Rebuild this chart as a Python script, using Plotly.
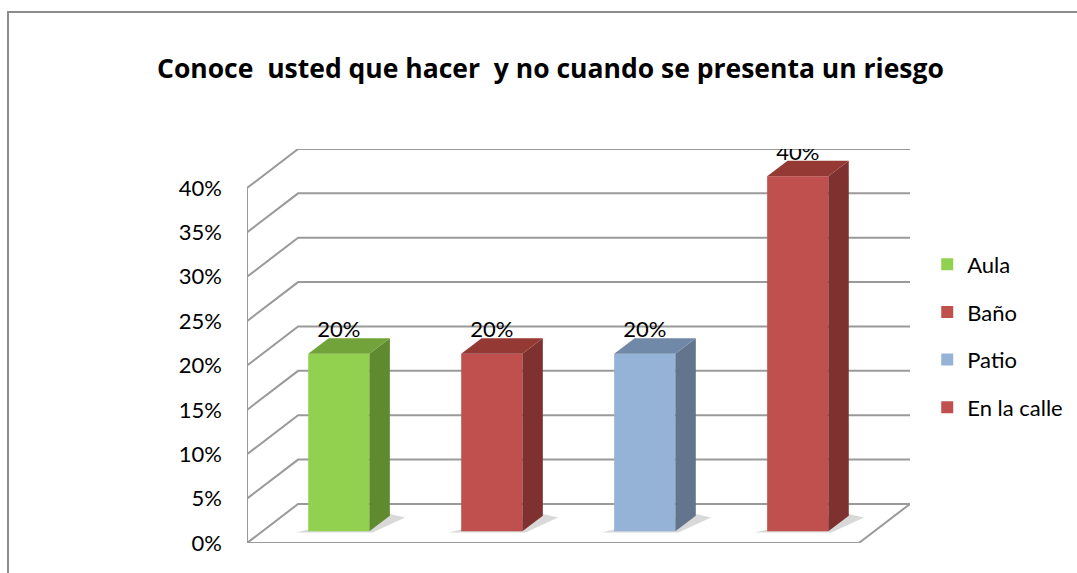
import plotly.graph_objects as go

# datos del grafico
categorias = ["Aula", "Baño", "Patio", "En la calle"]
valores = [20, 20, 20, 40]
etiquetas = ["20%", "20%", "20%", "40%"]
ticks_y = [0, 5, 10, 15, 20, 25, 30, 35, 40]
ticks_txt = ["0%", "5%", "10%", "15%", "20%", "25%", "30%", "35%", "40%"]

colores_frente = ["#92D050", "#C0504D", "#95B3D7", "#C0504D"]
colores_lado = ["#5F8A30", "#7F3130", "#62758D", "#7F3130"]
colores_arriba = ["#72A33A", "#953935", "#7189A8", "#953935"]

# profundidad del "3D" (en unidades de ejes)
DX = 0.334
DY = 4.4
f0, f1 = 0.3, 0.7   # posicion de la barra en la profundidad
ancho = 0.4
gris = "#9a9a9a"
fuente = "Lato"
n = len(categorias)


def camino(pts, cerrar=False):
    s = "M " + " L ".join(f"{x},{y}" for x, y in pts)
    return s + (" Z" if cerrar else "")


fig = go.Figure()

# paredes y cuadricula (debajo de las barras)
for v in ticks_y:
    fig.add_shape(type="path", xref="x", yref="y", layer="below",
                  path=camino([(0, v), (DX, v + DY), (n + DX, v + DY)]),
                  line=dict(color=gris, width=2))
fig.add_shape(type="path", xref="x", yref="y", layer="below",
              path=camino([(0, ticks_y[-1]), (0, 0), (n, 0), (n + DX, DY)]),
              line=dict(color=gris, width=2))

for i, v in enumerate(valores):
    xl = i + 0.5 + f0 * DX - ancho / 2
    xr = xl + ancho
    b0 = f0 * DY
    ddx = (f1 - f0) * DX
    ddy = (f1 - f0) * DY
    # sombra en el piso
    fig.add_shape(type="path", xref="x", yref="y", layer="below",
                  path=camino([(xl - 0.08, b0 - 0.15), (xr + 0.02, b0 - 0.15),
                               (xr + ddx + 0.1, b0 + ddy - 0.2), (xr + ddx, b0 + ddy + 0.2),
                               (xl, b0 + 0.2)], cerrar=True),
                  fillcolor="#d9d9d9", line=dict(width=0))
    # cara lateral
    fig.add_trace(go.Scatter(x=[xr, xr + ddx, xr + ddx, xr, xr],
                             y=[b0, b0 + ddy, b0 + v + ddy, b0 + v, b0],
                             fill="toself", fillcolor=colores_lado[i], mode="none",
                             showlegend=False, hoverinfo="skip"))
    # cara superior
    fig.add_trace(go.Scatter(x=[xl, xr, xr + ddx, xl + ddx, xl],
                             y=[b0 + v, b0 + v, b0 + v + ddy, b0 + v + ddy, b0 + v],
                             fill="toself", fillcolor=colores_arriba[i], mode="none",
                             showlegend=False, hoverinfo="skip"))
    # etiqueta
    fig.add_trace(go.Scatter(x=[xl + ancho / 2], y=[b0 + v + ddy * 0.7], mode="text",
                             text=[etiquetas[i]], textposition="top center",
                             textfont=dict(family=fuente, size=22, color="black"),
                             showlegend=False, hoverinfo="skip"))

# caras frontales (barras)
for i, v in enumerate(valores):
    fig.add_trace(go.Bar(x=[i + 0.5 + f0 * DX], y=[v], base=f0 * DY, width=ancho,
                         name=categorias[i], legendgroup=categorias[i],
                         marker=dict(color=colores_frente[i], line=dict(width=0))))

fig.update_layout(
    width=1077, height=573,
    margin=dict(l=247, r=167, t=149, b=30, autoexpand=False),
    paper_bgcolor="white", plot_bgcolor="white",
    barmode="overlay",
    font=dict(family=fuente, size=22, color="black"),
    xaxis=dict(range=[0, n + DX], showgrid=False, zeroline=False,
               showticklabels=False, showline=False, fixedrange=True),
    yaxis=dict(range=[0, ticks_y[-1] + DY], tickvals=ticks_y, ticktext=ticks_txt,
               showgrid=False, zeroline=False, showline=False,
               ticklabelstandoff=24, tickfont=dict(family=fuente, size=22)),
    legend=dict(x=1.026, y=0.76, xanchor="left", yanchor="top",
                font=dict(family=fuente, size=22), tracegroupgap=16,
                itemwidth=30, bgcolor="rgba(0,0,0,0)"),
    showlegend=True,
)

fig.add_annotation(text="<b>Conoce\u00a0 usted que hacer\u00a0 y no cuando se presenta un riesgo</b>",
                   xref="paper", yref="paper", x=0.4585, y=1.206, yanchor="middle",
                   showarrow=False,
                   font=dict(family="Open Sans", size=26.5, color="black"))

# borde del area del grafico
fig.add_shape(type="rect", xref="paper", yref="paper",
              x0=-0.3605, x1=1.27, y0=-0.15, y1=1.3477,
              line=dict(color="#8c8c8c", width=2))

fig.write_html("out.html", config={"displayModeBar": False},
               post_script="document.body.style.margin='0';")
